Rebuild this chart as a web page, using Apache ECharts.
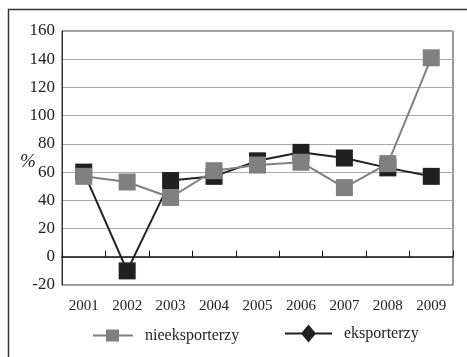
<!DOCTYPE html>
<html>
<head>
<meta charset="utf-8">
<script src="https://cdn.jsdelivr.net/npm/echarts@6/dist/echarts.min.js"></script>
<style>
  html, body { margin: 0; padding: 0; background: #fff; }
  #chart { width: 467px; height: 357px; }
</style>
</head>
<body>
<div id="chart"></div>
<script>
// Years on the category axis
const years = ['2001', '2002', '2003', '2004', '2005', '2006', '2007', '2008', '2009'];
// Values in %
const nieeksporterzy = [57, 53, 42, 61, 65, 67, 49, 66, 141];
const eksporterzy = [60, -10, 54, 57, 68, 74, 70, 63, 57];
// Value axis ticks
const yMin = -20;
const yMax = 160;
const yStep = 20;
const yUnit = '%';

const FONT = 'Liberation Serif';
const GRAY = '#808080';
const BLACK = '#231f20';

// Legend icons: a short line with the marker in the middle
const ICON_SQUARE = 'path://M0,5L40,5L40,7L0,7Z M13,0L26,0L26,12L13,12Z';
const ICON_DIAMOND = 'path://M0,8L47,8L47,10L0,10Z M23.5,0L31,9L23.5,18L16,9Z';

const legendText = { fontFamily: FONT, fontSize: 16, color: '#222', padding: [0, 0, 0, 7] };

const chart = echarts.init(document.getElementById('chart'), null, { renderer: 'canvas' });

chart.setOption({
  animation: false,
  backgroundColor: '#fff',
  textStyle: { fontFamily: FONT, color: '#222' },
  graphic: [{
    type: 'rect',
    shape: { x: 8.5, y: 9.5, width: 480, height: 380 },
    style: { fill: 'none', stroke: '#333', lineWidth: 1.5 },
    silent: true
  }, {
    // unit of the value axis
    type: 'text',
    left: 20, top: 152,
    style: { text: yUnit, font: 'italic 19px "Liberation Serif"', fill: '#222' },
    silent: true
  }],
  grid: {
    left: 62, top: 31, right: 14, bottom: 72,
    show: true, borderColor: '#333', borderWidth: 1
  },
  legend: [{
    left: 93, top: 327.5, padding: 0,
    itemWidth: 40, itemHeight: 12,
    textStyle: legendText,
    data: [{ name: 'nieeksporterzy', icon: ICON_SQUARE }]
  }, {
    left: 285, top: 324.5, padding: 0,
    itemWidth: 47, itemHeight: 18,
    textStyle: legendText,
    data: [{ name: 'eksporterzy', icon: ICON_DIAMOND }]
  }],
  xAxis: [{
    // zero line with inward ticks between categories
    type: 'category',
    data: years,
    boundaryGap: true,
    axisLine: { onZero: true, lineStyle: { color: '#111', width: 1.5 } },
    axisTick: { show: true, inside: true, length: 6, lineStyle: { color: '#111', width: 1 } },
    axisLabel: { show: false },
    splitLine: { show: false }
  }, {
    // year labels along the bottom of the plot
    type: 'category',
    data: years,
    position: 'bottom',
    boundaryGap: true,
    axisLine: { show: false, onZero: false },
    axisTick: { show: false },
    axisLabel: { margin: 14, fontFamily: FONT, fontSize: 15, color: '#222' },
    splitLine: { show: false }
  }],
  yAxis: {
    type: 'value',
    min: yMin, max: yMax, interval: yStep,
    axisLine: { show: true, lineStyle: { color: '#333', width: 1 } },
    axisTick: { show: false },
    axisLabel: { margin: 7, fontFamily: FONT, fontSize: 17, color: '#222' },
    splitLine: { show: true, lineStyle: { color: '#aaa', width: 1 } }
  },
  series: [{
    name: 'eksporterzy',
    type: 'line',
    data: eksporterzy,
    symbol: 'rect',
    symbolSize: 17,
    lineStyle: { color: BLACK, width: 2 },
    itemStyle: { color: BLACK },
    z: 2
  }, {
    name: 'nieeksporterzy',
    type: 'line',
    data: nieeksporterzy,
    symbol: 'rect',
    symbolSize: 17,
    lineStyle: { color: GRAY, width: 2 },
    itemStyle: { color: GRAY },
    z: 3
  }]
});
</script>
</body>
</html>
